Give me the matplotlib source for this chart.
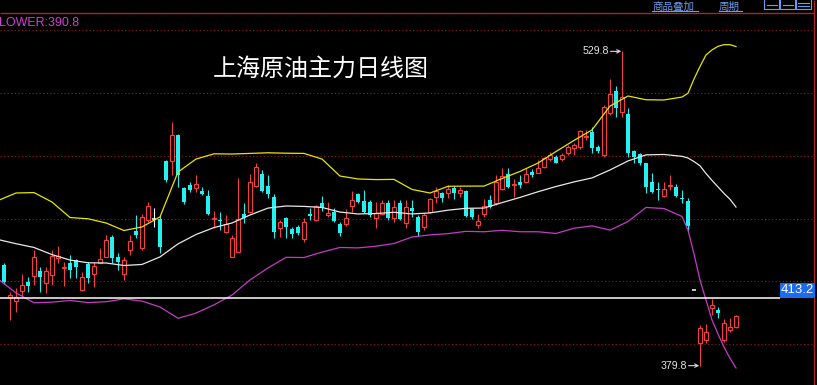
import numpy as np
import matplotlib
matplotlib.use("Agg")
import matplotlib.pyplot as plt
from matplotlib.patches import Rectangle
from matplotlib.lines import Line2D

# ===================== DATA =====================
TITLE = "上海原油主力日线图"
LOWER_TEXT = "LOWER:390.8"
HLINE_PRICE = 412.3
HLINE_LABEL = "413.2"
GRID_LEVELS = [540, 510, 480, 450, 420, 390]

OPEN = [
    432.6, 427.8, 412.4, 410.8, 415.6, 419.6, 422.7, 425.0, 419.1, 423.1,
    431.0, 426.4, 428.9, 430.2, 415.9, 428.2, 423.4, 428.9, 431.8, 441.1,
    431.8, 423.4, 435.0, 444.1, 436.1, 449.3, 449.6, 449.8, 477.5, 477.6,
    489.9, 464.7, 466.0, 464.4, 463.3, 460.8, 449.9, 449.0, 443.7, 431.8,
    434.2, 452.2, 453.0, 465.7, 471.1, 465.7, 460.1, 445.4, 450.1, 445.0,
    445.8, 440.1, 452.2, 449.3, 457.3, 451.7, 453.3, 447.4, 447.4, 456.1,
    461.7, 458.4, 458.0, 450.1, 452.2, 457.3, 450.1, 457.3, 447.7, 455.2,
    450.9, 446.1, 453.3, 460.4, 462.3, 462.1, 464.7, 462.1, 463.3, 454.4,
    446.9, 452.2, 458.9, 457.3, 464.0, 471.3, 466.0, 467.6, 467.6, 472.4,
    471.9, 474.8, 478.3, 479.5, 478.3, 481.4, 483.5, 484.0, 488.8, 491.5,
    484.0, 480.3, 500.2, 510.9, 501.0, 499.9, 482.4, 480.8, 476.4, 467.6,
    464.1, 460.9, 465.5, 465.2, 460.0, 458.5, 415.9, 390.5, 392.0, 407.2,
    406.4, 392.0, 396.8, 398.1,
]
HIGH = [
    433.6, 428.8, 415.1, 416.9, 423.5, 422.3, 435.0, 427.0, 427.0, 435.0,
    436.9, 429.3, 432.6, 430.7, 424.6, 429.4, 429.4, 435.9, 442.2, 442.2,
    433.4, 431.8, 442.2, 451.7, 452.2, 458.0, 454.9, 451.7, 477.9, 496.2,
    490.2, 465.2, 467.6, 470.8, 465.2, 463.6, 453.8, 453.3, 451.7, 442.2,
    469.2, 457.4, 471.1, 476.4, 473.2, 470.8, 461.7, 449.3, 450.9, 446.1,
    446.9, 450.1, 454.9, 456.5, 460.8, 458.0, 454.9, 448.5, 454.4, 463.2,
    462.3, 463.6, 458.9, 458.0, 458.9, 458.9, 458.9, 458.9, 458.9, 458.9,
    451.7, 452.8, 459.7, 465.2, 462.8, 466.0, 465.5, 465.2, 463.6, 454.9,
    452.2, 459.2, 461.2, 470.8, 474.0, 474.0, 468.7, 470.8, 474.0, 473.5,
    477.9, 479.2, 481.9, 480.3, 481.4, 485.1, 486.2, 492.3, 492.3, 493.9,
    485.1, 504.2, 516.5, 513.3, 529.8, 502.6, 482.7, 481.3, 476.7, 471.6,
    467.6, 467.6, 470.8, 466.5, 463.6, 459.7, 415.9, 399.2, 399.5, 411.5,
    407.9, 401.9, 402.4, 404.0,
]
LOW = [
    429.3, 418.8, 401.6, 405.5, 412.7, 415.1, 418.3, 415.1, 414.3, 418.3,
    428.6, 417.8, 421.6, 421.6, 415.6, 419.1, 417.5, 428.6, 431.5, 428.9,
    425.5, 420.7, 432.6, 440.9, 435.0, 448.5, 445.8, 433.4, 467.6, 470.8,
    465.2, 457.0, 462.8, 462.8, 461.2, 451.7, 445.4, 444.5, 443.0, 431.5,
    434.0, 447.7, 452.5, 465.2, 462.7, 459.7, 440.6, 441.1, 440.6, 440.6,
    442.2, 439.0, 449.3, 448.9, 453.8, 450.9, 448.5, 441.7, 446.5, 453.3,
    457.3, 452.5, 450.9, 445.4, 451.7, 449.3, 448.5, 449.3, 445.4, 450.9,
    441.8, 444.5, 452.5, 457.6, 458.0, 459.7, 459.2, 460.4, 450.9, 449.6,
    445.4, 450.9, 454.9, 456.5, 463.6, 464.4, 460.4, 464.4, 467.1, 469.7,
    471.6, 474.0, 477.6, 476.4, 477.6, 480.3, 480.3, 483.1, 487.5, 481.2,
    481.2, 479.4, 499.4, 498.3, 498.3, 479.5, 476.4, 475.6, 462.1, 462.1,
    458.9, 460.4, 463.6, 460.3, 457.3, 443.6, 415.9, 379.8, 390.8, 404.0,
    402.4, 391.2, 396.0, 397.8,
]
CLOSE = [
    430.2, 419.7, 413.5, 412.7, 418.3, 418.0, 431.8, 422.3, 425.0, 432.1,
    432.1, 426.7, 425.5, 427.0, 422.3, 421.8, 427.5, 430.6, 439.8, 431.3,
    429.4, 430.2, 439.3, 442.2, 450.6, 456.0, 449.6, 436.6, 468.4, 489.9,
    470.8, 457.8, 463.6, 466.5, 461.7, 452.2, 450.4, 448.8, 447.3, 440.6,
    449.6, 450.1, 467.3, 474.5, 463.2, 461.7, 443.7, 448.5, 446.1, 442.5,
    443.3, 448.2, 451.4, 456.1, 454.9, 452.5, 449.0, 443.0, 450.1, 458.9,
    458.0, 453.3, 451.7, 452.5, 457.3, 450.1, 455.7, 449.6, 455.7, 453.6,
    443.7, 451.7, 459.2, 463.2, 460.0, 464.0, 462.1, 463.6, 451.2, 450.6,
    448.8, 456.0, 455.7, 467.6, 470.3, 465.2, 466.5, 466.0, 471.1, 470.8,
    474.0, 478.8, 480.3, 476.7, 480.3, 484.0, 485.1, 491.8, 489.4, 483.5,
    482.4, 503.4, 509.5, 502.6, 508.2, 481.4, 479.5, 476.7, 465.2, 462.8,
    463.6, 464.0, 466.0, 460.8, 459.5, 446.5, 415.9, 397.6, 396.0, 408.7,
    404.8, 400.0, 398.1, 403.5,
]

# Bollinger band values read at these candle positions
BAND_IDX = list(range(0, 115, 3)) + list(range(115, 124))
UPPER = [
    458.6, 462.2, 462.4, 457.9, 450.5, 449.9, 447.9, 444.3, 446.0, 450.8,
    472.2, 478.4, 480.9, 480.8, 481.1, 481.4, 481.2, 481.1, 478.4, 470.3,
    468.9, 468.6, 468.7, 463.9, 462.2, 465.4, 465.5, 465.5, 469.1, 472.5,
    476.5, 482.0, 487.3, 492.3, 503.7, 508.5, 506.7, 506.6, 508.0,
    509.8, 516.6, 522.6, 528.1, 530.5, 532.2, 533.0, 533.0, 532.1,
]
MID = [
    440.0, 438.0, 436.2, 432.8, 430.2, 428.9, 428.8, 427.6, 428.1, 431.7,
    437.9, 442.4, 445.7, 447.9, 451.7, 455.0, 456.0, 455.8, 455.3, 453.1,
    452.2, 452.4, 453.0, 452.2, 452.7, 454.0, 454.9, 455.0, 457.6, 460.1,
    462.8, 465.3, 467.5, 469.4, 473.2, 477.5, 480.4, 480.6, 479.7,
    478.9, 477.2, 475.2, 471.5, 468.2, 465.1, 462.0, 459.2, 455.5,
]
LOWER = [
    421.2, 414.5, 409.8, 410.1, 410.9, 409.9, 410.3, 411.7, 410.6, 407.8,
    402.4, 404.9, 408.8, 413.5, 420.7, 426.4, 431.5, 431.4, 434.0, 436.2,
    436.0, 436.8, 438.1, 441.2, 442.2, 442.8, 443.9, 443.7, 444.4, 443.7,
    443.7, 442.9, 445.4, 446.5, 444.5, 448.6, 455.3, 454.8, 451.0,
    444.5, 433.1, 420.7, 411.1, 401.6, 394.9, 388.7, 383.3, 378.7,
]
# =====================================================================

W, H = 817, 385
RED = "#f04040"
CYAN = "#22f2f2"
GRID_RED = "#9a1c1c"
LINK = "#6b9ced"


def px_idx(px):
    # horizontal pixel -> candle index
    return (px + 2) / 6.0


def px_price(py):
    # vertical pixel -> price
    return 554.32 - py * 0.4773


def fig_xy(px, py):
    return px / W, 1 - py / H


fig = plt.figure(figsize=(W / 100, H / 100), dpi=100, facecolor="black")
ax = fig.add_axes([0, 0, 1, 1])
ax.set_facecolor("black")
ax.set_xlim(px_idx(0), px_idx(W))
ax.set_ylim(px_price(H), px_price(0))
ax.axis("off")

right_edge = px_idx(814)

# frame + dotted grid
ax.hlines(GRID_LEVELS, px_idx(0), right_edge, colors=GRID_RED,
          linestyles=(0, (1, 2.2)), lw=0.8, zorder=1)
ax.hlines(px_price(12.5), px_idx(0), right_edge, colors="#a82626", lw=1.0, zorder=1)
ax.vlines(right_edge, px_price(H), px_price(0), colors="#a82626", lw=1.0, zorder=1)

# candles
o = np.asarray(OPEN)
h = np.asarray(HIGH)
l = np.asarray(LOW)
c = np.asarray(CLOSE)
x = np.arange(len(o))
up = c > o
down = c < o
flat = c == o
wick_col = np.where(up, RED, np.where(down, CYAN, "white"))
ax.vlines(x, l, h, colors=wick_col, lw=0.8, zorder=3)
ax.bar(x[up], np.maximum(c[up] - o[up], 0.45), bottom=o[up], width=0.68,
       facecolor="black", edgecolor=RED, lw=0.85, zorder=4)
ax.bar(x[down], np.maximum(o[down] - c[down], 0.55), bottom=c[down], width=0.82,
       color=CYAN, lw=0, zorder=4)
ax.hlines(c[flat], x[flat] - 0.33, x[flat] + 0.33, colors="white", lw=1.1, zorder=4)

# Bollinger bands
ax.plot(BAND_IDX, UPPER, color="#e6e600", lw=0.9, zorder=5)
ax.plot(BAND_IDX, MID, color="#e8e8e8", lw=0.9, zorder=5)
ax.plot(BAND_IDX, LOWER, color="#c43cc4", lw=0.9, zorder=5)

# horizontal price line + label box
box_left = px_idx(780)
ax.hlines(HLINE_PRICE, px_idx(0), box_left, colors="white", lw=1.1, zorder=6)
box_h = 15 * 0.4773
ax.add_patch(Rectangle((box_left, HLINE_PRICE), px_idx(815) - box_left, box_h,
                       facecolor="#1a6cf0", edgecolor="none", zorder=7))
ax.text((box_left + px_idx(815)) / 2, HLINE_PRICE + box_h / 2, HLINE_LABEL,
        ha="center", va="center", color="white", fontsize=9.5,
        family="Liberation Sans", zorder=8)

# high / low markers
for idx, val in [(int(np.argmax(h)), h.max()), (int(np.argmin(l)), l.min())]:
    ax.annotate("", xy=(idx - 0.12, val), xytext=(idx - 1.9, val),
                arrowprops=dict(arrowstyle="->", color="#d8d8d8", lw=0.8,
                                shrinkA=0, shrinkB=0, mutation_scale=6),
                zorder=8)
    ax.text(idx - 2.15, val, f"{val:.1f}", ha="right", va="center",
            color="#e6e6e6", fontsize=7.6, family="Liberation Sans", zorder=8)

# title
tx, ty = fig_xy(320.5, 68.5)
fig.text(tx, ty, TITLE, ha="center", va="center", color="white",
         fontsize=17.3, family=["Noto Sans CJK SC", "DejaVu Sans"])

# indicator readout
lx, ly = fig_xy(-1, 22.5)
fig.text(lx, ly, LOWER_TEXT, ha="left", va="center", color="#d040d0",
         fontsize=9, family="Liberation Sans")

# top-right toolbar
for label, x0, x1 in [("商品叠加", 652, 698), ("周期", 719, 742)]:
    bx, by = fig_xy(x0, 9.5)
    fig.text(bx, by, label, ha="left", va="baseline", color=LINK,
             fontsize=7.6, family=["Noto Sans CJK SC", "DejaVu Sans"])
    ux0, uy = fig_xy(x0, 10.5)
    ux1, _ = fig_xy(x1, 10.5)
    fig.add_artist(Line2D([ux0, ux1], [uy, uy], color=LINK, lw=0.8,
                          transform=fig.transFigure))
for x0 in (764, 780, 796):
    rx, ry = fig_xy(x0, 9)
    fig.add_artist(Rectangle((rx, ry), 15 / W, 12 / H, fill=False,
                             edgecolor=LINK, lw=0.8, transform=fig.transFigure))
# glyph lines inside the icon boxes
for (xa, xb) in [(767, 777), (783, 793)]:
    p0 = fig_xy(xa, 4.5)
    p1 = fig_xy(xb, 4.5)
    fig.add_artist(Line2D([p0[0], p1[0]], [p0[1], p1[1]], color=LINK, lw=0.8,
                          transform=fig.transFigure))
for yy in (3, 6):
    p0 = fig_xy(798, yy)
    p1 = fig_xy(809, yy)
    fig.add_artist(Line2D([p0[0], p1[0]], [p0[1], p1[1]], color=LINK, lw=0.8,
                          transform=fig.transFigure))

fig.savefig("out.png", dpi=100, facecolor="black")
